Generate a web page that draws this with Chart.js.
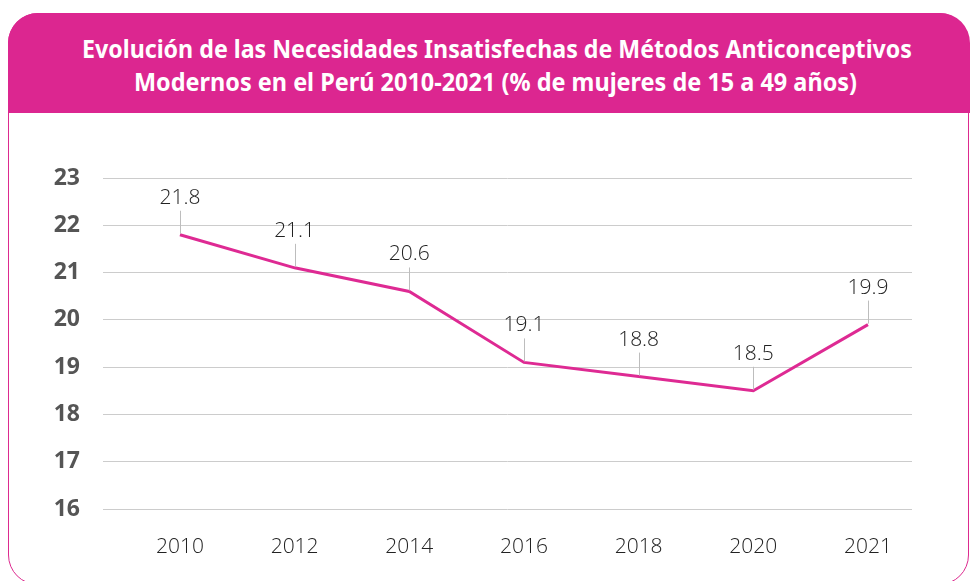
<!DOCTYPE html>
<html>
<head>
<meta charset="utf-8">
<script src="https://cdn.jsdelivr.net/npm/chart.js@4.4.1/dist/chart.umd.min.js"></script>
<style>
  html, body { margin: 0; padding: 0; background: #ffffff; width: 970px; height: 581px; overflow: hidden; }
  #card { position: absolute; left: 8px; top: 13px; width: 961px; height: 572px; border: 1.5px solid #DD2A8F; border-radius: 30px; overflow: hidden; box-sizing: border-box; background: #fff; }
  #card2 { position: absolute; left: 8px; top: 13px; width: 962px; height: 100px; border-radius: 30px 30px 0 0; background: #DC2690; }
  #title { position: absolute; left: 0; top: 32px; width: 970px; color: #fff; font-family: "Noto Sans", "Open Sans", sans-serif; font-weight: bold; font-size: 25px; line-height: 33px; }
  .tl { position: absolute; white-space: nowrap; transform-origin: 0 0; }
  #wrap { position: absolute; left: 0; top: 0; width: 970px; height: 581px; }
</style>
</head>
<body>
<div id="card"></div>
<div id="card2"></div>
<div id="title"><span class="tl" id="t1" data-x="82" data-w="830" style="top:0">Evolución de las Necesidades Insatisfechas de Métodos Anticonceptivos</span><span class="tl" id="t2" data-x="134" data-w="723" style="top:33px">Modernos en el Perú 2010-2021 (% de mujeres de 15 a 49 años)</span></div>
<div id="wrap"><canvas id="c" width="970" height="581"></canvas></div>
<script>
const categories = ["2010", "2012", "2014", "2016", "2018", "2020", "2021"];
const values = [21.8, 21.1, 20.6, 19.1, 18.8, 18.5, 19.9];
const yTicks = [16, 17, 18, 19, 20, 21, 22, 23];

document.querySelectorAll('.tl').forEach(el => {
  const w = el.getBoundingClientRect().width;
  const target = parseFloat(el.dataset.w);
  el.style.left = el.dataset.x + 'px';
  el.style.transform = 'scaleX(' + (target / w) + ')';
});

const labelPlugin = {
  id: 'leaderLabels',
  afterDatasetsDraw(chart) {
    const ctx = chart.ctx;
    const meta = chart.getDatasetMeta(0);
    ctx.save();
    meta.data.forEach((pt, i) => {
      ctx.strokeStyle = '#bdbdbd';
      ctx.lineWidth = 1;
      ctx.beginPath();
      ctx.moveTo(Math.round(pt.x) + 0.5, pt.y - 1);
      ctx.lineTo(Math.round(pt.x) + 0.5, pt.y - 24);
      ctx.stroke();
      ctx.fillStyle = '#222222';
      ctx.font = '300 21px "Open Sans", sans-serif';
      ctx.textAlign = 'center';
      ctx.textBaseline = 'middle';
      ctx.fillText(values[i].toFixed(1), pt.x, pt.y - 37);
    });
    ctx.restore();
  }
};

new Chart(document.getElementById('c'), {
  type: 'line',
  data: {
    datasets: [{
      data: values.map((v, i) => ({ x: i, y: v })),
      borderColor: '#DE2A93',
      borderWidth: 3,
      pointRadius: 0,
      tension: 0,
      fill: false
    }]
  },
  options: {
    responsive: false,
    animation: false,
    plugins: { legend: { display: false }, tooltip: { enabled: false } },
    layout: { padding: { left: 0, top: 178, right: 58, bottom: 0 } },
    scales: {
      x: {
        type: 'linear',
        min: -0.671,
        max: 6.384,
        afterBuildTicks(scale) { scale.ticks = categories.map((c, i) => ({ value: i })); },
        afterFit(scale) { scale.height = 72; },
        grid: { display: false, drawTicks: false },
        border: { display: false },
        ticks: {
          callback: (v) => categories[v],
          color: '#222222',
          font: { family: '"Open Sans", sans-serif', size: 21, weight: '300' },
          padding: 25,
          maxRotation: 0,
          autoSkip: false
        }
      },
      y: {
        min: 16,
        max: 23,
        afterBuildTicks(scale) { scale.ticks = yTicks.map(v => ({ value: v })); },
        afterFit(scale) { scale.width = 103; },
        grid: { color: '#cccccc', lineWidth: 1, drawTicks: false },
        border: { display: false },
        ticks: {
          color: '#555555',
          font: { family: '"Open Sans", sans-serif', size: 23, weight: 'bold' },
          padding: 23
        }
      }
    }
  },
  plugins: [labelPlugin]
});
</script>
</body>
</html>
